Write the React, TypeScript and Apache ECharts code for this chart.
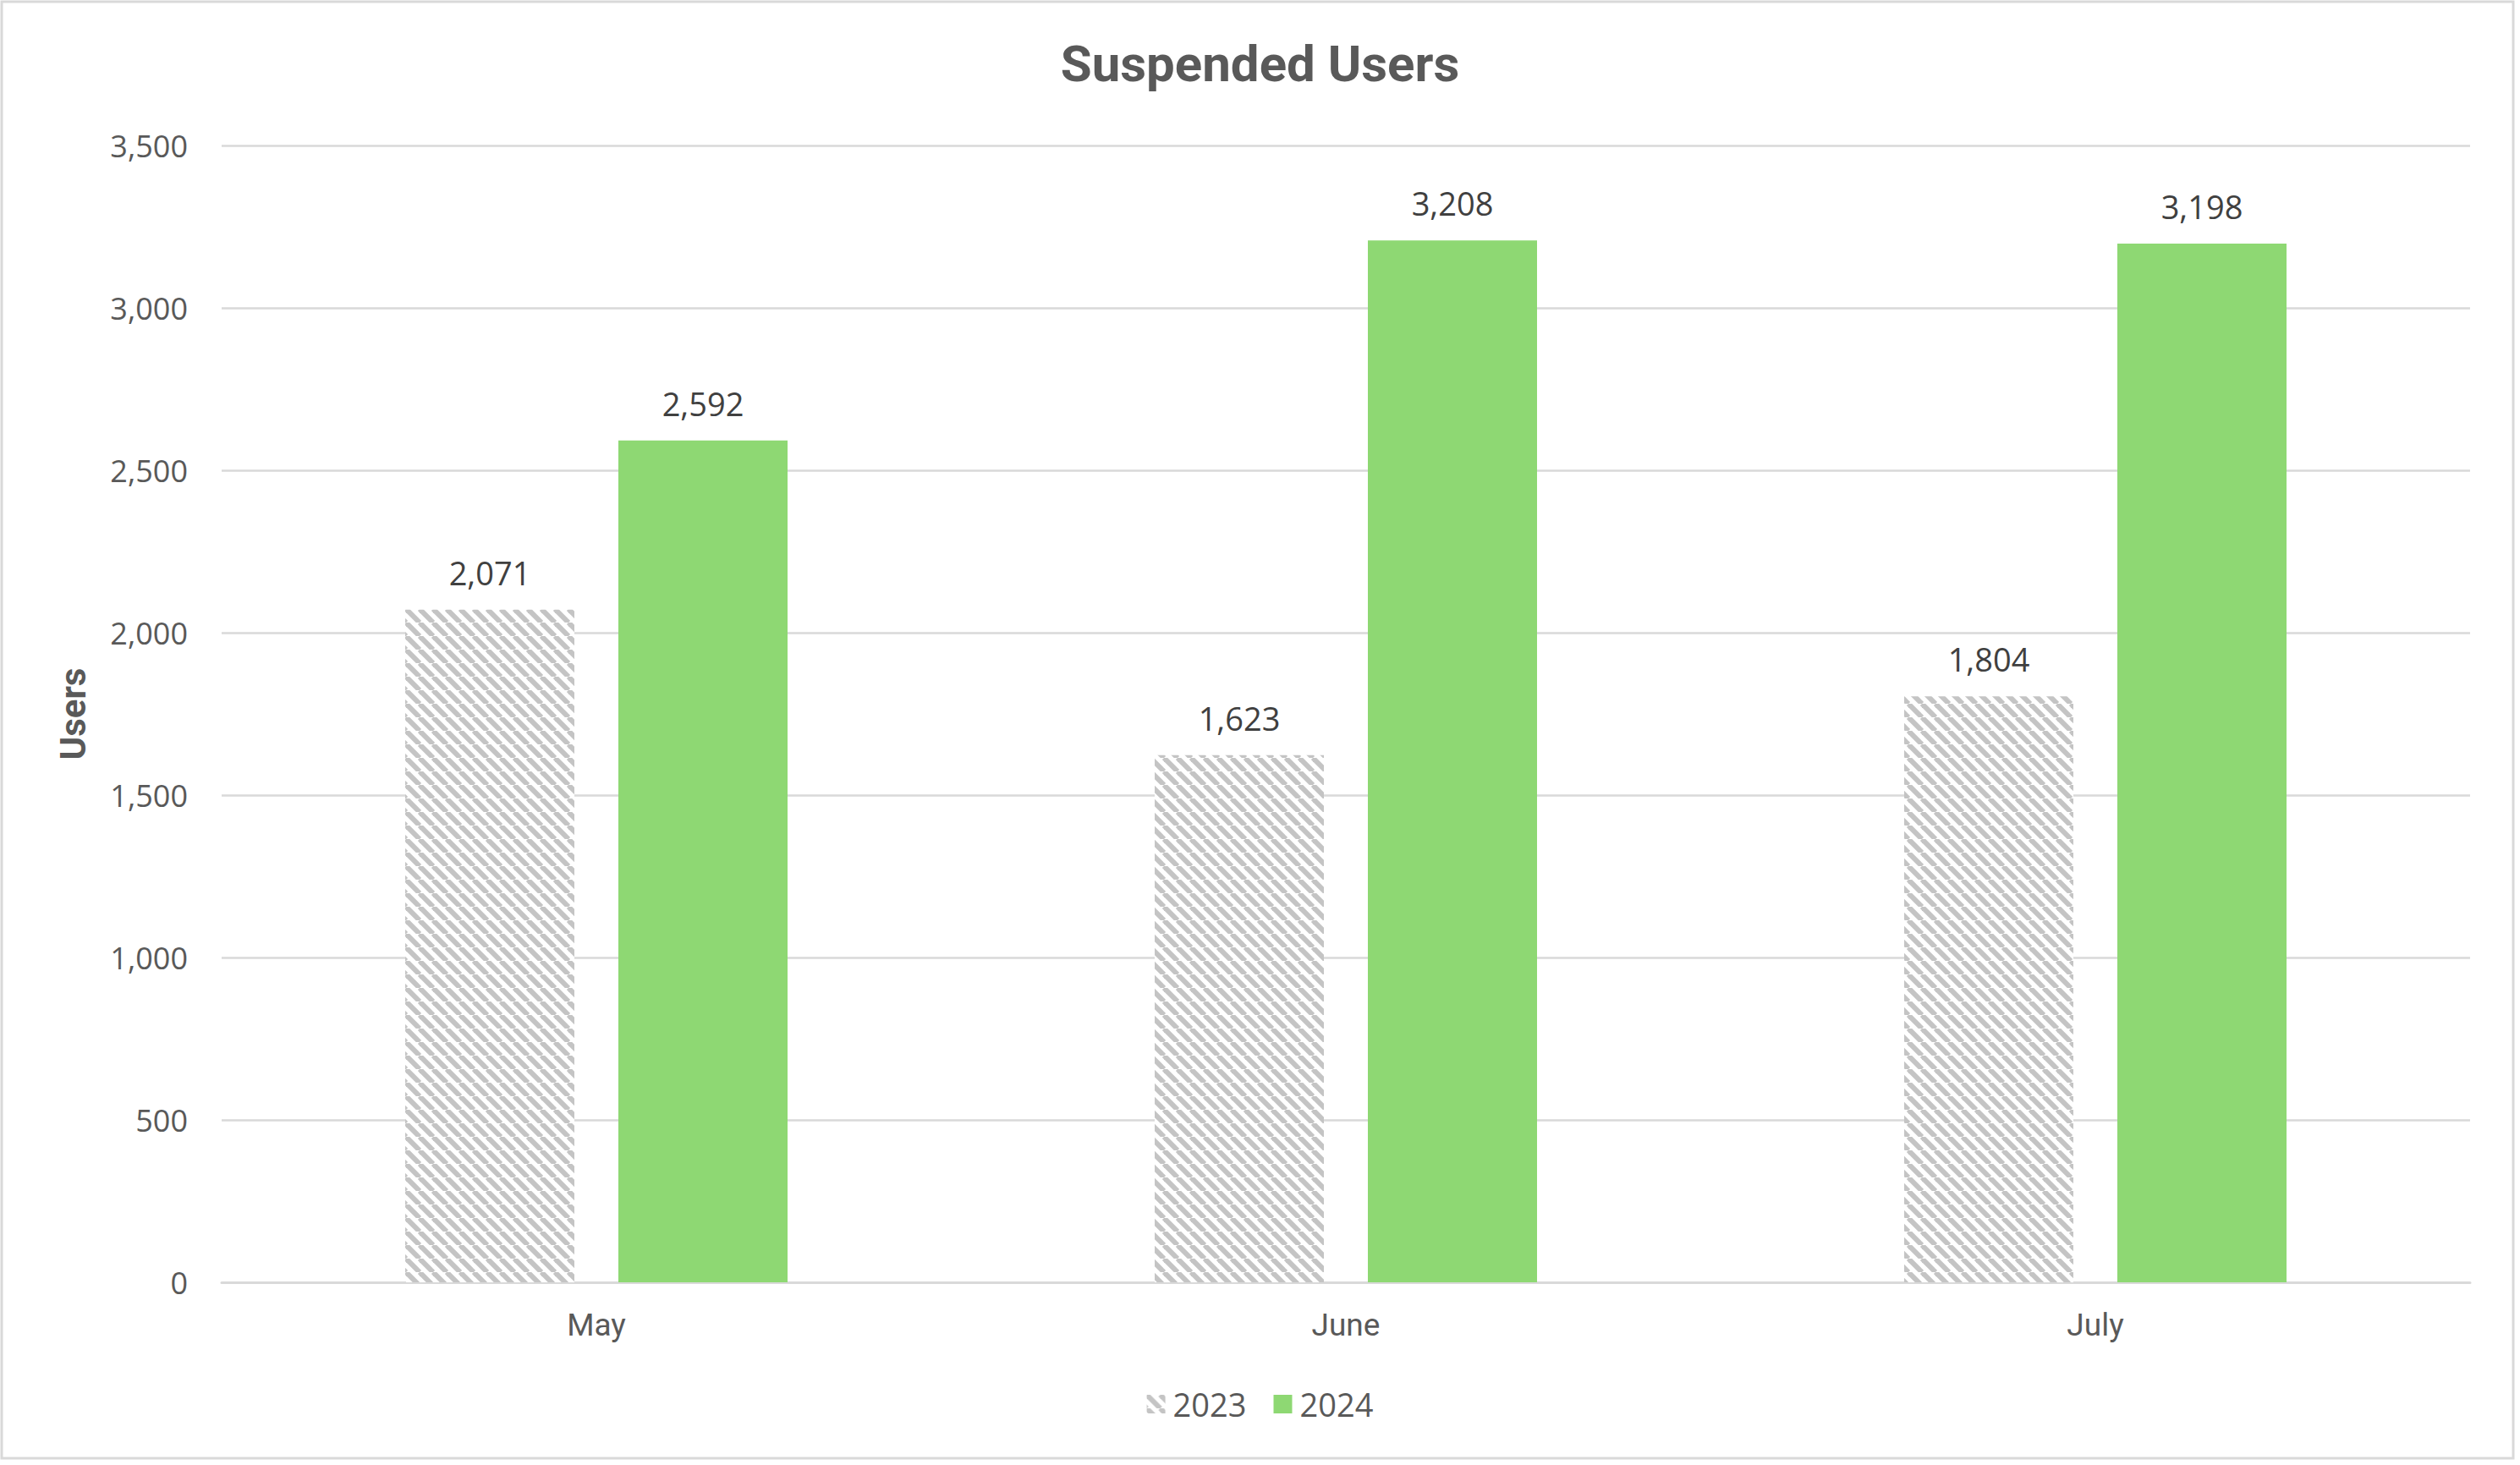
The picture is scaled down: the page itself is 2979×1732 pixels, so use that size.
import React, { useEffect, useRef } from "react";
import * as echarts from "echarts";

const categories = ["May", "June", "July"];
const seriesNames = ["2023", "2024"];
const values2023 = [2071, 1623, 1804];
const values2024 = [2592, 3208, 3198];
const yTicks = { min: 0, max: 3500, interval: 500 };

const NARROW = "'Liberation Sans Narrow', 'Arial Narrow', 'Roboto', sans-serif";
const REGULAR = "'Open Sans', 'Noto Sans', sans-serif";

function makeStripe(): HTMLCanvasElement {
  const size = 16;
  const c = document.createElement("canvas");
  c.width = size;
  c.height = size;
  const ctx = c.getContext("2d")!;
  ctx.fillStyle = "#ffffff";
  ctx.fillRect(0, 0, size, size);
  ctx.strokeStyle = "#c4c4c4";
  ctx.lineWidth = 6;
  for (let k = -1; k <= 1; k++) {
    ctx.beginPath();
    ctx.moveTo(k * size, 0);
    ctx.lineTo(k * size + size, size);
    ctx.stroke();
  }
  return c;
}

export default function App() {
  const ref = useRef<HTMLDivElement>(null);
  useEffect(() => {
    document.body.style.margin = "0";
    const chart = echarts.init(ref.current!, null, { renderer: "svg" });
    const stripe = { image: makeStripe(), repeat: "repeat" } as any;
    const fmt = (v: number) => v.toLocaleString("en-US");
    const label = {
      show: true,
      position: "top",
      distance: 25,
      fontFamily: REGULAR,
      fontSize: 38,
      color: "#404040",
      formatter: (p: any) => fmt(p.value),
    };
    chart.setOption({
      animation: false,
      backgroundColor: "#ffffff",
      title: {
        text: "Suspended Users",
        left: "center",
        top: 40,
        textStyle: { fontFamily: NARROW, fontWeight: "bold", fontSize: 60, color: "#595959" },
      },
      graphic: [
        {
          type: "rect",
          shape: { x: 2, y: 2, width: 2969, height: 1722 },
          style: { fill: "none", stroke: "#d9d9d9", lineWidth: 3 },
          silent: true,
          z: -10,
        },
      ],
      legend: {
        data: seriesNames,
        top: 1636,
        left: "center",
        itemWidth: 22,
        itemHeight: 22,
        itemGap: 32,
        icon: "rect",
        textStyle: { fontFamily: REGULAR, fontSize: 38, color: "#595959", padding: [0, 0, 0, 4] },
      },
      grid: { left: 262, right: 59, top: 172, bottom: 216, containLabel: false },
      xAxis: {
        type: "category",
        data: categories,
        axisTick: { show: false },
        axisLine: { lineStyle: { color: "#d9d9d9", width: 3 } },
        axisLabel: { fontFamily: NARROW, fontSize: 37, color: "#595959", margin: 32 },
      },
      yAxis: {
        type: "value",
        min: yTicks.min,
        max: yTicks.max,
        interval: yTicks.interval,
        name: "Users",
        nameLocation: "middle",
        nameGap: 155,
        nameRotate: 90,
        nameTextStyle: { fontFamily: NARROW, fontWeight: "bold", fontSize: 42, color: "#595959" },
        axisLine: { show: false },
        axisTick: { show: false },
        splitLine: { lineStyle: { color: "#d9d9d9", width: 2.5 } },
        axisLabel: {
          fontFamily: REGULAR,
          fontSize: 36,
          color: "#595959",
          margin: 40,
          formatter: (v: number) => fmt(v),
        },
      },
      series: [
        {
          name: seriesNames[0],
          type: "bar",
          data: values2023,
          barWidth: 200,
          barGap: "26%",
          itemStyle: { color: stripe },
          label,
        },
        {
          name: seriesNames[1],
          type: "bar",
          data: values2024,
          barWidth: 200,
          barGap: "26%",
          itemStyle: { color: "#8ED873" },
          label,
        },
      ],
    });
    return () => chart.dispose();
  }, []);
  return (
    <div
      ref={ref}
      style={{ position: "absolute", left: 0, top: 0, width: 2979, height: 1732 }}
    />
  );
}
